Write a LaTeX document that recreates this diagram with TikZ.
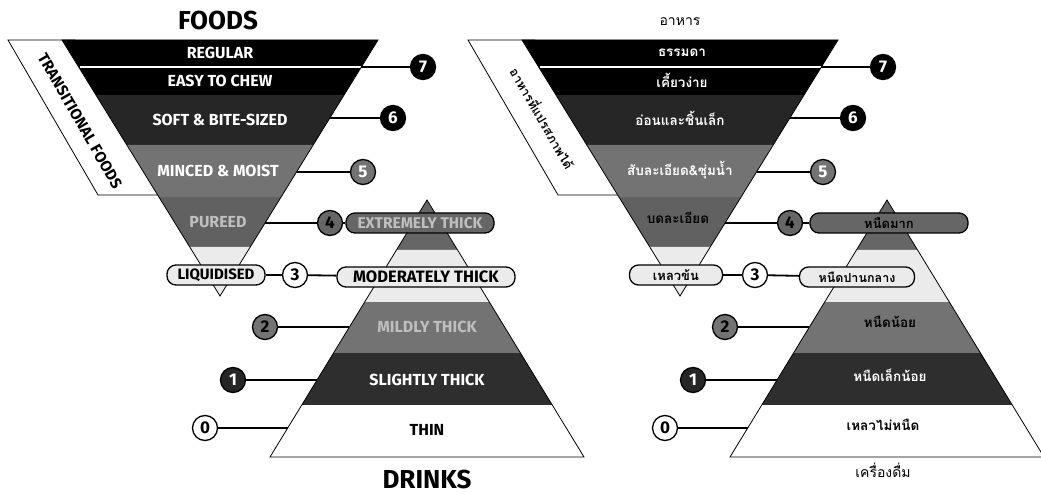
\documentclass[tikz,border=0pt]{standalone}
\usepackage{fontspec}
\setmainfont{Fira Sans}
\newfontfamily\thaifont[Script=Thai]{Loma}
\usepackage{tikz}

\begin{document}
\begin{tikzpicture}[x=1pt, y=-1pt,
    band/.style={font=\bfseries\fontsize{16}{16}\selectfont, text=white},
    tband/.style={font=\thaifont\bfseries\fontsize{13.5}{13.5}\selectfont, text=white},
    title/.style={font=\bfseries\fontsize{26}{26}\selectfont},
    num/.style={circle, draw, line width=1.3pt, minimum size=25pt,
                inner sep=0pt, font=\bfseries\fontsize{17}{17}\selectfont},
    pill/.style={rectangle, draw, rounded corners=9pt, line width=1.3pt,
                 minimum height=20pt, inner sep=1.5pt},
    link/.style={line width=1.8pt}]

    \useasboundingbox (0,0) rectangle (1041,494);

    % Both frameworks (English left, Thai right)
    \foreach \dx/\p in {0/L, 460/R} {
    \begin{scope}[xshift=\dx pt]
        % Transitional foods strip
        \draw[fill=white, line width=0.8pt] (8,40) -- (75,40) -- (165,195) -- (98,195) -- cycle;

        % Foods (inverted triangle)
        \foreach \ya/\yb/\col in {40/95/black, 95/145/black!85, 145/197/black!55,
                                  197/247/black!62, 247/296/black!8} {
            \fill[\col] ({220-0.617*(296-\ya)},\ya) -- ({220+0.617*(296-\ya)},\ya)
                -- ({220+0.617*(296-\yb)},\yb) -- ({220-0.617*(296-\yb)},\yb) -- cycle;
        }
        \draw[white, line width=1.4pt] (79.5,67) -- (360.5,67);
        \draw[line width=0.8pt] (62,40) -- (378,40) -- (220,296) -- cycle;

        % Drinks (triangle)
        \foreach \ya/\yb/\col in {200/250/black!60, 250/302/black!8, 302/353/black!55,
                                  353/405/black!82, 405/457/white} {
            \fill[\col] ({427-0.611*(\ya-200)},\ya) -- ({427+0.611*(\ya-200)},\ya)
                -- ({427+0.611*(\yb-200)},\yb) -- ({427-0.611*(\yb-200)},\yb) -- cycle;
        }
        \draw[line width=0.8pt] (427,200) -- (584,457) -- (270,457) -- cycle;

        % Level numbers
        \node[num, fill=black, text=white] (\p-c7) at (423,67) {7};
        \node[num, fill=black, text=white] (\p-c6) at (393,118) {6};
        \node[num, fill=black!55, text=white] (\p-c5) at (363,172) {5};
        \node[num, fill=black!60] (\p-c4) at (330,223) {4};
        \node[num, fill=white] (\p-c3) at (295,275) {3};
        \node[num, fill=black!55] (\p-c2) at (265,327) {2};
        \node[num, fill=black!85, text=white] (\p-c1) at (233,380) {1};
        \node[num, fill=white] (\p-c0) at (205,428) {0};

        % Band edges
        \coordinate (\p-e7) at (361.3,67);
        \coordinate (\p-e6) at (329.8,118);
        \coordinate (\p-e5) at (296.5,172);
        \coordinate (\p-e4) at (265,223);
        \coordinate (\p-e2) at (349.4,327);
        \coordinate (\p-e1) at (317,380);
        \coordinate (\p-e0) at (287.7,428);

        \foreach \n in {7,6,5,4,2,1,0} {
            \draw[link] (\p-e\n) -- (\p-c\n);
        }
    \end{scope}
    }

    % English labels
    \node[title] (Lfoods) at (218,20) {FOODS};
    \node[title] (Ldrinks) at (427,479) {DRINKS};
    \node[rotate=-60, font=\bfseries\fontsize{15.5}{15.5}\selectfont] (Ltrans) at (80,121) {TRANSITIONAL FOODS};
    \node[band] (Lregular) at (220,53) {REGULAR};
    \node[band] (Leasy) at (220,81) {EASY TO CHEW};
    \node[band] (Lsoft) at (220,120) {SOFT \& BITE-SIZED};
    \node[band] (Lminced) at (218,171) {MINCED \& MOIST};
    \node[band, text=black!25] (Lpureed) at (218,222) {PUREED};
    \node[band, text=black!25] (Lmildly) at (427,327) {MILDLY THICK};
    \node[band] (Lslightly) at (427,380) {SLIGHTLY THICK};
    \node[band, text=black] (Lthin) at (427,430) {THIN};
    \node[pill, fill=black!8, minimum width=98pt, font=\bfseries\fontsize{15}{15}\selectfont] (Lliq) at (216,275) {LIQUIDISED};
    \node[pill, fill=black!60, text=black!25, minimum width=148pt, font=\bfseries\fontsize{15.5}{15.5}\selectfont] (Lext) at (420,223) {EXTREMELY THICK};
    \node[pill, fill=black!8, minimum width=178pt, font=\bfseries\fontsize{16.5}{16.5}\selectfont] (Lmod) at (426,277) {MODERATELY THICK};
    \draw[link] (L-c4) -- (Lext);
    \draw[link] (Lliq) -- (L-c3);
    \draw[link] (L-c3) -- (Lmod);

    % Thai labels
    \node[font=\thaifont\fontsize{14}{14}\selectfont] (Rfoods) at (680,22) {อาหาร};
    \node[font=\thaifont\fontsize{14}{14}\selectfont] (Rdrinks) at (883,470) {เครื่องดื่ม};
    \node[rotate=-60, font=\thaifont\bfseries\fontsize{12.5}{12.5}\selectfont] (Rtrans) at (543,118) {อาหารที่แปรสภาพได้};
    \node[tband] (Rregular) at (682,53) {ธรรมดา};
    \node[tband] (Reasy) at (682,80) {เคี้ยวง่าย};
    \node[tband] (Rsoft) at (680,118) {อ่อนและชิ้นเล็ก};
    \node[tband] (Rminced) at (680,170) {สับละเอียด\&ชุ่มน้ำ};
    \node[tband, text=black] (Rpureed) at (678,218) {บดละเอียด};
    \node[tband, text=black] (Rmildly) at (890,322) {หนืดน้อย};
    \node[tband] (Rslightly) at (890,375) {หนืดเล็กน้อย};
    \node[tband, text=black] (Rthin) at (883,425) {เหลวไม่หนืด};
    \node[pill, fill=black!8, minimum width=93pt, font=\thaifont\bfseries\fontsize{13}{13}\selectfont] (Rliq) at (676,275) {เหลวข้น};
    \node[pill, fill=black!60, minimum width=158pt, font=\thaifont\bfseries\fontsize{13}{13}\selectfont] (Rext) at (889,223) {หนืดมาก};
    \node[pill, fill=black!8, minimum width=115pt, font=\thaifont\bfseries\fontsize{12.5}{12.5}\selectfont] (Rmod) at (857,277) {หนืดปานกลาง};
    \draw[link] (R-c4) -- (Rext);
    \draw[link] (Rliq) -- (R-c3);
    \draw[link] (R-c3) -- (Rmod);
\end{tikzpicture}
\end{document}
